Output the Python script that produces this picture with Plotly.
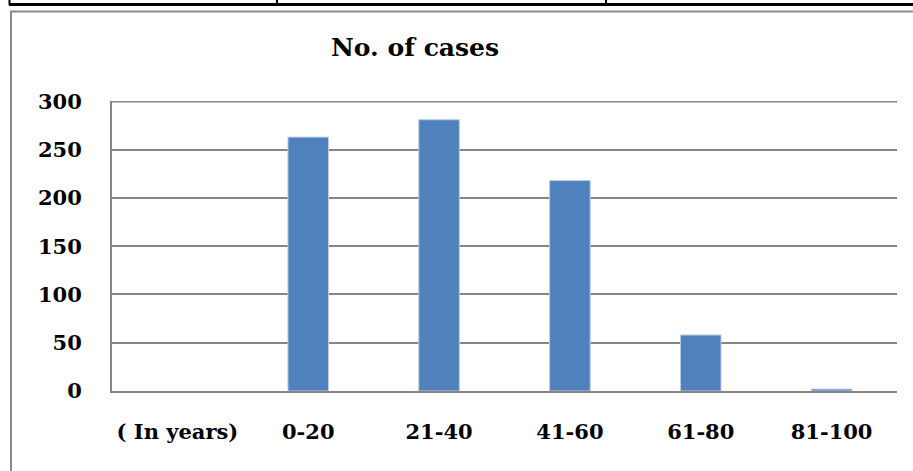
import plotly.graph_objects as go

categories = ["( In years)", "0-20", "21-40", "41-60", "61-80", "81-100"]
cases = [None, 263, 281, 218, 58, 2]
y_ticks = [0, 50, 100, 150, 200, 250, 300]

W, H = 913, 471
L, R, T, B = 112, 897, 101, 391

def px(x):
    return (x - L) / (R - L)

def py(y):
    return (B - y) / (B - T)

fig = go.Figure()
fig.add_trace(go.Bar(
    x=categories, y=cases, width=0.31,
    marker=dict(color="#4f81bd", line=dict(color="#b9cde5", width=1)),
    showlegend=False,
))

font = "DejaVu Serif"
fig.update_layout(
    width=W, height=H,
    margin=dict(l=L, r=W - R, t=T, b=H - B),
    paper_bgcolor="white", plot_bgcolor="white",
    font=dict(family=font, color="black"),
    bargap=0.69,
    xaxis=dict(
        type="category", showgrid=False, showline=True, linecolor="#868686", linewidth=2,
        ticks="", tickfont=dict(family=font, size=21, color="black", weight="bold"),
        ticklabelstandoff=21,
    ),
    yaxis=dict(
        range=[0, 300.4], tickvals=y_ticks, showgrid=True, gridcolor="#868686", gridwidth=2,
        showline=True, linecolor="#868686", linewidth=2, ticks="", zeroline=False,
        tickfont=dict(family=font, size=21, color="black", weight="bold"),
        ticklabelstandoff=24,
    ),
    annotations=[dict(
        text="<b>No. of cases</b>", xref="paper", yref="paper",
        x=px(414.5), y=py(48), showarrow=False,
        font=dict(family=font, size=25, color="black"),
        xanchor="center", yanchor="middle",
    )],
)

shapes = []
# top gridline at the maximum tick
shapes.append(dict(type="line", xref="paper", yref="y", x0=0, x1=1, y0=y_ticks[-1], y1=y_ticks[-1],
                   line=dict(color="#868686", width=2), layer="below"))
# table lines at top (black)
shapes.append(dict(type="line", xref="paper", yref="paper", x0=px(9), x1=px(913), y0=py(4.5), y1=py(4.5),
                   line=dict(color="black", width=3)))
for xv in [9.5, 277, 606]:
    shapes.append(dict(type="line", xref="paper", yref="paper", x0=px(xv), x1=px(xv), y0=py(0), y1=py(5),
                       line=dict(color="black", width=2)))
# chart frame (gray)
shapes.append(dict(type="line", xref="paper", yref="paper", x0=px(10), x1=px(913), y0=py(11.5), y1=py(11.5),
                   line=dict(color="#898989", width=2)))
shapes.append(dict(type="line", xref="paper", yref="paper", x0=px(11), x1=px(11), y0=py(11), y1=py(471),
                   line=dict(color="#898989", width=2)))
fig.update_layout(shapes=shapes)

fig.write_html("out.html", config={"displayModeBar": False},
               post_script="document.body.style.margin='0';document.body.style.overflow='hidden';")
